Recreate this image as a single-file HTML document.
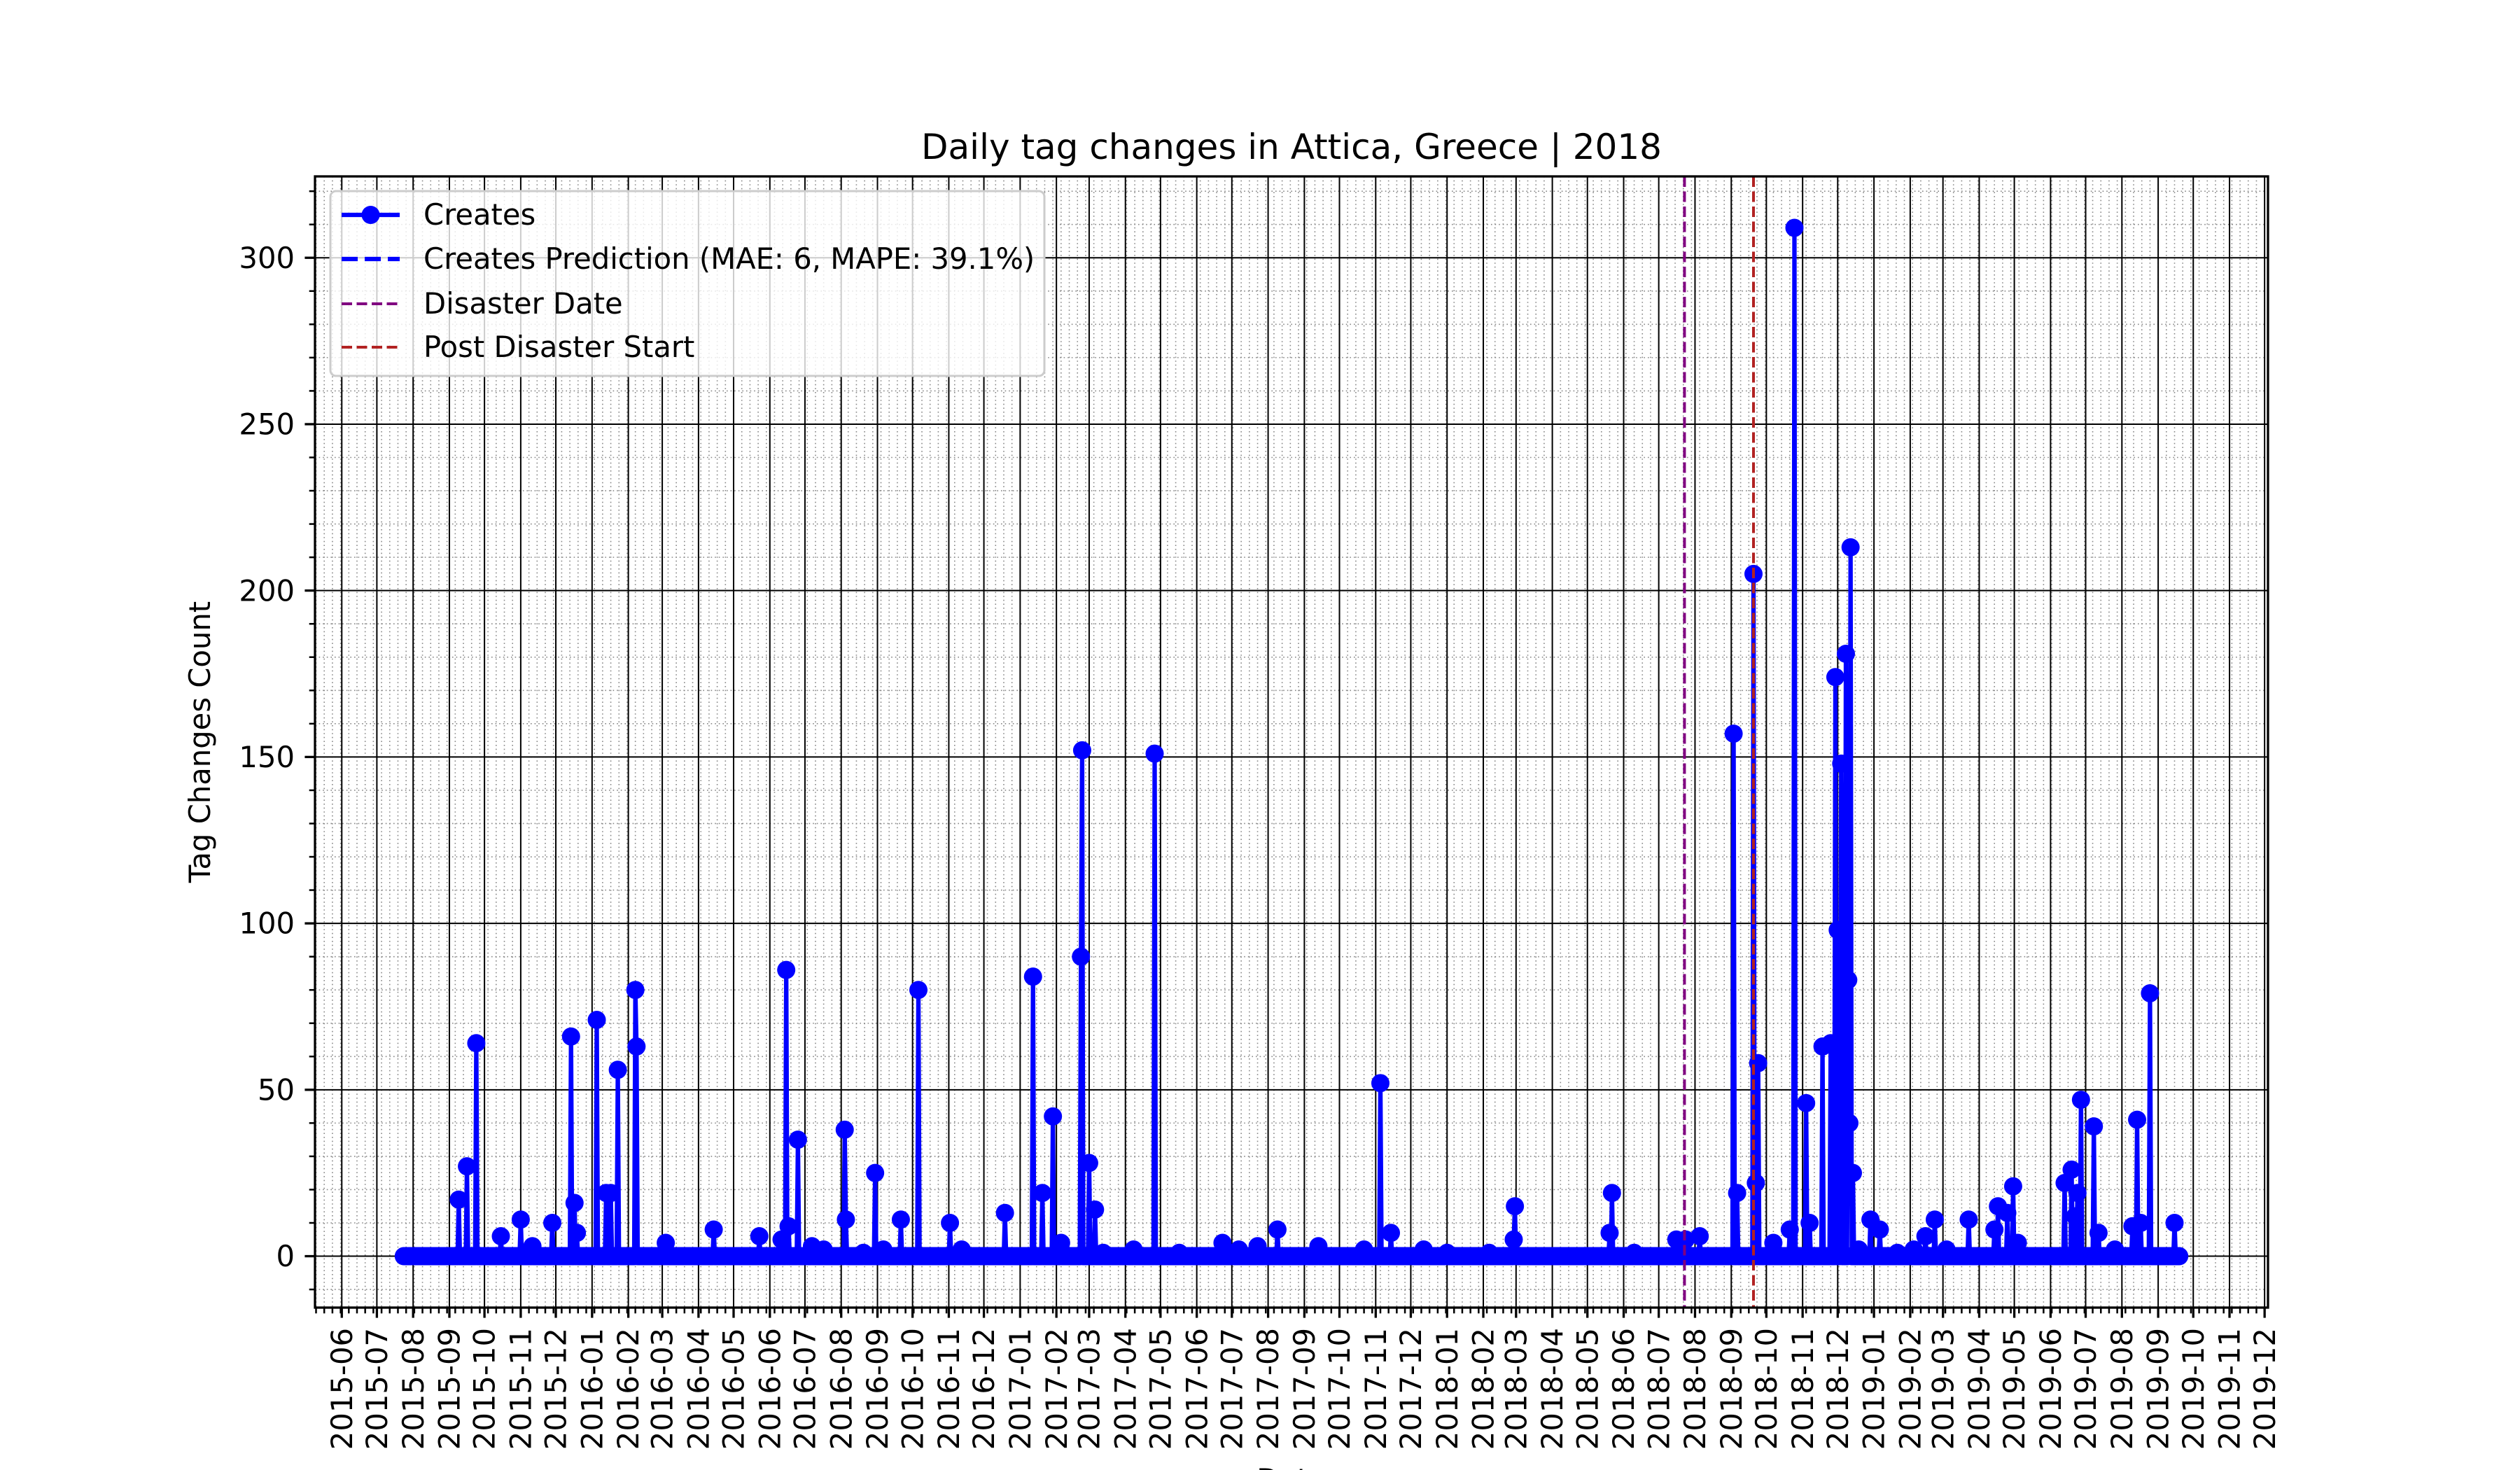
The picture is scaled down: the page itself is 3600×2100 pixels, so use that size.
<!DOCTYPE html>
<html>
<head>
<meta charset="utf-8">
<style>
  html,body{margin:0;padding:0;background:#fff;}
  svg{display:block;font-family:"DejaVu Sans","Liberation Sans",sans-serif;}
</style>
</head>
<body>
<svg id="chart" xmlns="http://www.w3.org/2000/svg" width="3600" height="2100" viewBox="0 0 3600 2100">
  <rect x="0" y="0" width="3600" height="2100" fill="#fff"/>
  <g id="grid"></g>
  <g id="marks"></g>
  <g id="axes"></g>
  <text x="1845" y="227" font-size="50" text-anchor="middle">Daily tag changes in Attica, Greece | 2018</text>
  <text transform="translate(300,1060) rotate(-90)" font-size="41.7" text-anchor="middle">Tag Changes Count</text>
  <text x="1845" y="2128" font-size="41.7" text-anchor="middle">Date</text>
  <g id="legend">
    <rect x="472" y="273" width="1020" height="264" rx="8" fill="#fff" fill-opacity="0.8" stroke="#cccccc" stroke-width="3"/>
    <g>
      <line x1="488" y1="307" x2="571" y2="307" stroke="#0000ff" stroke-width="6.25"/>
      <circle cx="529.5" cy="307" r="13" fill="#0000ff"/>
      <text x="605" y="321" font-size="41.7">Creates</text>
    </g>
    <g>
      <line x1="488" y1="370" x2="571" y2="370" stroke="#0000ff" stroke-width="6.25" stroke-dasharray="23,10"/>
      <text x="605" y="384" font-size="41.7">Creates Prediction (MAE: 6, MAPE: 39.1%)</text>
    </g>
    <g>
      <line x1="488" y1="434" x2="571" y2="434" stroke="#800080" stroke-width="4" stroke-dasharray="15,6.5"/>
      <text x="605" y="448" font-size="41.7">Disaster Date</text>
    </g>
    <g>
      <line x1="488" y1="496" x2="571" y2="496" stroke="#b22222" stroke-width="4" stroke-dasharray="15,6.5"/>
      <text x="605" y="510" font-size="41.7">Post Disaster Start</text>
    </g>
  </g>
</svg>
<script>
// ---- data ----
const seriesStart = "2015-07-24";
const seriesLength = 1519; // days
const spikeDayIndex = [47,54,62,83,100,110,127,143,146,148,165,173,177,183,198,199,224,265,304,323,327,329,337,349,359,377,378,393,403,410,425,440,467,477,514,538,546,555,562,579,580,586,591,598,624,642,663,700,714,730,747,782,821,835,844,872,892,928,949,950,1031,1033,1052,1088,1096,1108,1137,1140,1154,1156,1158,1171,1185,1189,1199,1202,1213,1220,1224,1226,1228,1229,1231,1233,1235,1236,1237,1239,1244,1254,1262,1277,1291,1301,1309,1319,1338,1360,1363,1371,1376,1380,1420,1426,1429,1431,1434,1445,1449,1463,1478,1482,1485,1493,1514];
const spikeValues = [17,27,64,6,11,3,10,66,16,7,71,19,19,56,80,63,4,8,6,5,86,9,35,3,2,38,11,1,25,2,11,80,10,2,13,84,19,42,4,90,152,28,14,1,2,151,1,4,2,3,8,3,2,52,7,2,1,1,5,15,7,19,1,5,5,6,157,19,205,22,58,4,8,309,46,10,63,64,174,98,40,148,60,181,83,40,213,25,2,11,8,1,2,6,11,2,11,8,15,13,21,4,22,26,12,19,47,39,7,2,9,41,10,79,10];
const disasterDate = "2018-07-23";
const postDisasterStart = "2018-09-20";
const yTicks = [0,50,100,150,200,250,300];
const xTickStart = "2015-06-01";
const xTickCount = 55; // monthly ticks 2015-06 .. 2019-12

// ---- scales ----
const NS = "http://www.w3.org/2000/svg";
const L = 450, R = 3240, T = 252, B = 1868;
const DAY = 86400000;
const ref = Date.UTC(2015,5,1);
function dnum(s){ const p=s.split("-").map(Number); return (Date.UTC(p[0],p[1]-1,p[2]||1)-ref)/DAY; }
const startNum = dnum(seriesStart);
const xMin = startNum - 0.05*(seriesLength-1), xMax = startNum + (seriesLength-1)*1.05;
const maxV = Math.max(...spikeValues);
const yMin = -0.05*maxV, yMax = maxV*1.05;
function X(d){ return L + (d - xMin)/(xMax - xMin)*(R-L); }
function Y(v){ return B - (v - yMin)/(yMax - yMin)*(B-T); }
function mk(tag, attrs, parent){ const e=document.createElementNS(NS,tag); for(const k in attrs) e.setAttribute(k,attrs[k]); parent.appendChild(e); return e; }

const grid = document.getElementById('grid');
const marks = document.getElementById('marks');
const axes = document.getElementById('axes');

// month ticks
const monthTicks = [];
for(let i=0;i<xTickCount;i++){
  const y = 2015 + Math.floor((5+i)/12), m = (5+i)%12;
  monthTicks.push({d:(Date.UTC(y,m,1)-ref)/DAY, label: y+"-"+String(m+1).padStart(2,"0")});
}
// minor grid x (weekly)
for(let d=Math.ceil(xMin); d<=xMax; d+=7){
  const l = mk('line',{x1:X(d),x2:X(d),y1:T,y2:B,stroke:'#888','stroke-width':1.6,'stroke-dasharray':'1.6,4'},grid);
  
  
  const t = mk('line',{x1:X(d),x2:X(d),y1:B,y2:B+8.3,stroke:'#000','stroke-width':2.5},axes);
  
  
}
// minor grid y
for(let v=-10; v<=yMax; v+=10){
  if(v<yMin) continue;
  const l = mk('line',{x1:L,x2:R,y1:Y(v),y2:Y(v),stroke:'#888','stroke-width':1.6,'stroke-dasharray':'1.6,4'},grid);
  
  
  const t = mk('line',{x1:L-8.3,x2:L,y1:Y(v),y2:Y(v),stroke:'#000','stroke-width':2.5},axes);
  
  
}
// major grid x
monthTicks.forEach(mt=>{
  const x = X(mt.d);
  if(x<L-1||x>R+1) return;
  const l = mk('line',{x1:x,x2:x,y1:T,y2:B,stroke:'#000','stroke-width':2},grid);
  
  
  const t = mk('line',{x1:x,x2:x,y1:B,y2:B+14.6,stroke:'#000','stroke-width':3.3},axes);
  
  
  const tx = mk('text',{transform:`translate(${x},${B+29}) rotate(-90)`,'font-size':41.7,'text-anchor':'end',dy:'0.35em'},axes);
  tx.textContent = mt.label;
  
  
});
// major grid y
yTicks.forEach(v=>{
  const y = Y(v);
  const l = mk('line',{x1:L,x2:R,y1:y,y2:y,stroke:'#000','stroke-width':2},grid);
  
  
  const t = mk('line',{x1:L-14.6,x2:L,y1:y,y2:y,stroke:'#000','stroke-width':3.3},axes);
  
  
  const tx = mk('text',{x:L-29,y:y,'font-size':41.7,'text-anchor':'end',dy:'0.35em'},axes);
  tx.textContent = String(v);
  
  
});
// spine
const sp = mk('rect',{x:L,y:T,width:R-L,height:B-T,fill:'none',stroke:'#000','stroke-width':3.3},axes);



// build series
const values = new Array(seriesLength).fill(0);
spikeDayIndex.forEach((di,i)=>{ let k=di; while(k<seriesLength-1 && values[k]!==0) k++; values[k]=spikeValues[i]; });

let pts = [];
for(let i=0;i<seriesLength;i++) pts.push(X(startNum+i).toFixed(2)+","+Y(values[i]).toFixed(2));
const line = mk('polyline',{points:pts.join(" "),fill:'none',stroke:'#0000ff','stroke-width':6.25,'stroke-linejoin':'round'},marks);


for(let i=0;i<seriesLength;i++){
  const c = mk('circle',{cx:X(startNum+i),cy:Y(values[i]),r:13,fill:'#0000ff'},marks);
  
  
}
// vertical lines
const dl = mk('line',{x1:X(dnum(disasterDate)),x2:X(dnum(disasterDate)),y1:T,y2:B,stroke:'#800080','stroke-width':4,'stroke-dasharray':'15,6.5'},marks);


const pl = mk('line',{x1:X(dnum(postDisasterStart)),x2:X(dnum(postDisasterStart)),y1:T,y2:B,stroke:'#b22222','stroke-width':4,'stroke-dasharray':'15,6.5'},marks);


</script>
</body>
</html>
